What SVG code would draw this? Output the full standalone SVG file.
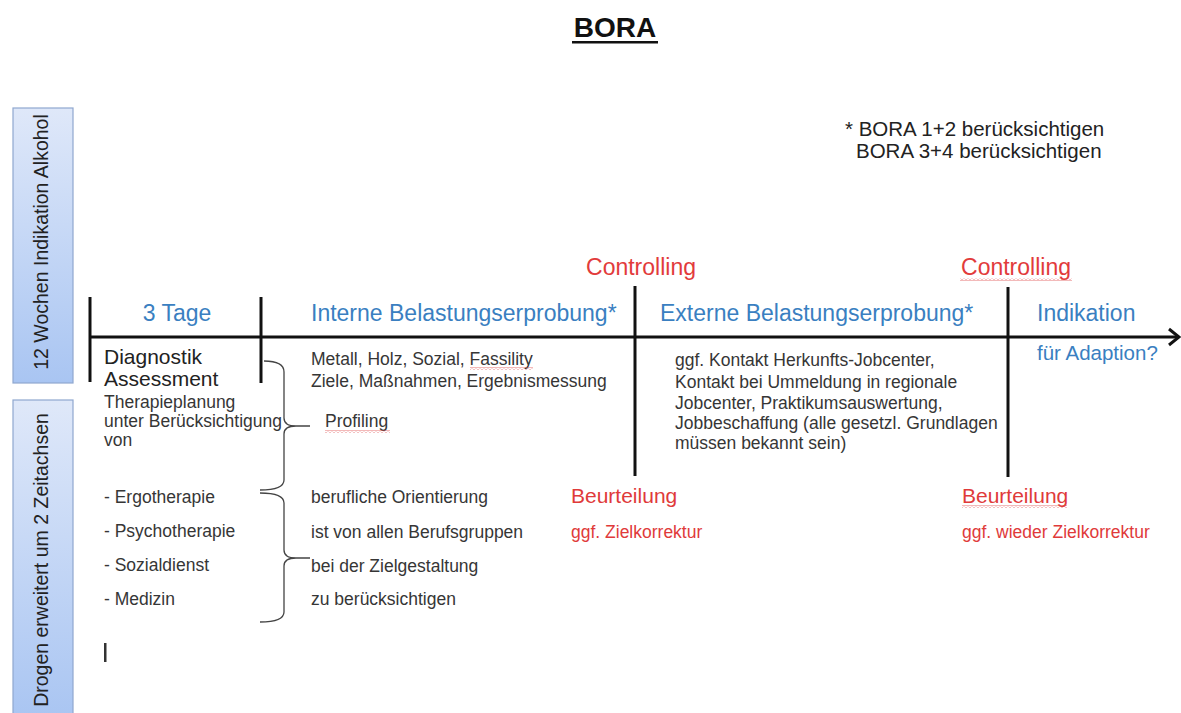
<svg xmlns="http://www.w3.org/2000/svg" width="1181" height="713" viewBox="0 0 1181 713">
<style>
text{font-family:"Liberation Sans",Arial,sans-serif;}
.body{font-size:17.5px;fill:#363636;}
.head{font-size:23px;fill:#3a7fc1;}
.red{fill:#e03a3a;}
.ctrl{font-size:23px;fill:#e23b3b;}
.side{font-size:19.5px;fill:#222;}
.axis{stroke:#111;stroke-width:3;fill:none;}
.brace{stroke:#444;stroke-width:1.3;fill:none;}
</style>
<defs>
<linearGradient id="boxg" x1="0" y1="0" x2="0" y2="1">
<stop offset="0" stop-color="#dfe8f9"/>
<stop offset="1" stop-color="#a9c5f2"/>
</linearGradient>
<pattern id="wavy" width="4" height="3" patternUnits="userSpaceOnUse">
<path d="M0,2.5 L2,0.5 L4,2.5" stroke="#e05050" stroke-width="0.8" fill="none"/>
</pattern>
</defs>
<rect width="1181" height="713" fill="#ffffff"/>

<g id="title">
<text x="615" y="37" text-anchor="middle" font-size="28" font-weight="bold" fill="#111">BORA</text>
<rect x="572" y="41" width="86" height="2.5" fill="#111"/>
</g>

<g id="note">
<text x="845" y="136" font-size="20.5" fill="#222">* BORA 1+2 berücksichtigen</text>
<text x="856" y="158" font-size="20.5" fill="#222">BORA 3+4 berücksichtigen</text>
</g>

<g id="box-alkohol">
<rect x="13" y="108" width="60" height="275" fill="url(#boxg)" stroke="#8fa7cf" stroke-width="1.2"/>
<text class="side" transform="translate(48,242) rotate(-90)" text-anchor="middle">12 Wochen Indikation Alkohol</text>
</g>
<g id="box-drogen">
<rect x="13" y="400" width="60" height="320" fill="url(#boxg)" stroke="#8fa7cf" stroke-width="1.2"/>
<text class="side" transform="translate(48,560) rotate(-90)" text-anchor="middle">Drogen erweitert um 2 Zeitachsen</text>
</g>

<g id="connectors">
<path class="axis" d="M90,337 L1179,337"/>
<path class="axis" d="M1169,329 L1179,337 L1169,345" stroke-width="2.5"/>
<path class="axis" d="M90,297 L90,382"/>
<path class="axis" d="M261,297 L261,383"/>
<path class="axis" d="M635,286 L635,476"/>
<path class="axis" d="M1008,287 L1008,477"/>
<path class="brace" d="M264,361 Q284,361 284,372 L284,418 Q284,426 296,426 L310,426 M296,426 Q284,426 284,434 L284,480 Q284,490 260,490"/>
<path class="brace" d="M260,493 Q284,493 284,503 L284,550 Q284,558 296,558 L310,558 M296,558 Q284,558 284,566 L284,612 Q284,622 260,622"/>
<rect x="104" y="643" width="2.5" height="19" fill="#333"/>
</g>

<g id="phase-3tage">
<text class="head" x="177" y="321" text-anchor="middle" font-size="25">3 Tage</text>
<text x="104" y="364" font-size="21" fill="#222">Diagnostik</text>
<text x="104" y="386" font-size="21" fill="#222">Assessment</text>
<text class="body" x="104" y="408">Therapieplanung</text>
<text class="body" x="104" y="427">unter Berücksichtigung</text>
<text class="body" x="104" y="446">von</text>
<text class="body" x="104" y="503">- Ergotherapie</text>
<text class="body" x="104" y="537">- Psychotherapie</text>
<text class="body" x="104" y="571">- Sozialdienst</text>
<text class="body" x="104" y="605">- Medizin</text>
</g>

<g id="phase-intern">
<text class="head" x="311" y="321">Interne Belastungserprobung*</text>
<text class="body" x="311" y="365">Metall, Holz, Sozial, Fassility</text>
<rect x="470" y="367" width="63" height="3" fill="url(#wavy)"/>
<text class="body" x="311" y="387">Ziele, Maßnahmen, Ergebnismessung</text>
<text class="body" x="325" y="427">Profiling</text>
<rect x="325" y="430" width="65" height="3" fill="url(#wavy)"/>
<text class="body" x="311" y="503">berufliche Orientierung</text>
<text class="body" x="311" y="538">ist von allen Berufsgruppen</text>
<text class="body" x="311" y="572">bei der Zielgestaltung</text>
<text class="body" x="311" y="605">zu berücksichtigen</text>
</g>

<g id="controlling-1">
<text class="ctrl" x="641" y="275" text-anchor="middle">Controlling</text>
<text x="571" y="503" font-size="21" class="red">Beurteilung</text>
<text x="571" y="538" font-size="17.5" class="red">ggf. Zielkorrektur</text>
</g>

<g id="phase-extern">
<text class="head" x="660" y="321">Externe Belastungserprobung*</text>
<text class="body" x="675" y="366">ggf. Kontakt Herkunfts-Jobcenter,</text>
<text class="body" x="675" y="388">Kontakt bei  Ummeldung in regionale</text>
<text class="body" x="675" y="409">Jobcenter, Praktikumsauswertung,</text>
<text class="body" x="675" y="429">Jobbeschaffung (alle gesetzl. Grundlagen</text>
<text class="body" x="675" y="449">müssen bekannt sein)</text>
</g>

<g id="controlling-2">
<text class="ctrl" x="1016" y="275" text-anchor="middle">Controlling</text>
<rect x="960" y="278" width="112" height="3" fill="url(#wavy)"/>
<text x="962" y="503" font-size="21" class="red">Beurteilung</text>
<rect x="962" y="505" width="105" height="3" fill="url(#wavy)"/>
<text x="962" y="538" font-size="17.5" class="red">ggf. wieder Zielkorrektur</text>
</g>

<g id="phase-indikation">
<text class="head" x="1037" y="321">Indikation</text>
<text x="1037" y="360" font-size="20.5" fill="#3a7fc1">für Adaption?</text>
</g>
</svg>
